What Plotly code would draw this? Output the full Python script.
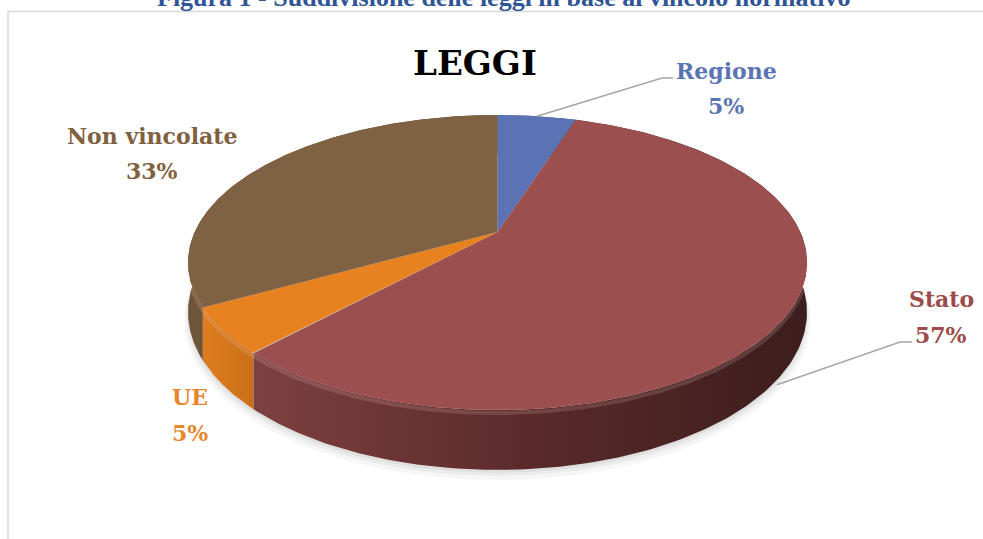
import numpy as np
import plotly.graph_objects as go

# ---------------- data ----------------
categories = ["Regione", "Stato", "UE", "Non vincolate"]
values = [5, 57, 5, 33]
title_text = "LEGGI"
caption_text = "Figura 1 - Suddivisione delle leggi in base al vincolo normativo"

# ---------------- styles ----------------
top_colors = ["#5b73b4", "#9b4f4f", "#e68220", "#7f6243"]
side_colors = [["#4a5f96", "#3c4d7a"],
               ["#7e4040", "#5a2a2a", "#3c1d1d"],
               ["#de7d1e", "#c96f18"],
               ["#6f5539", "#5e472f"]]
label_colors = ["#5a73b5", "#9c4a4a", "#e8862b", "#7f603f"]

# pseudo-3D projection parameters (pixel space)
CX, CY = 497.5, 232.0
A, B, K, D = 302.8, 141.2, 0.2068, 47.5


def rim(theta_deg, drop=False):
    t = np.radians(theta_deg)
    u, v = np.sin(t), np.cos(t)
    w = 1 + K * v
    x = CX + A * u / w
    y = CY - B * v / w + (D / w if drop else 0.0)
    return x, y


total = float(sum(values))
bounds = np.concatenate([[0.0], np.cumsum(values) / total * 360.0])

fig = go.Figure()

# soft shadow under the pie
full = np.linspace(0, 360, 361)
bx, by = rim(full, drop=True)
mx, my = bx.mean(), by.mean()
for s, dy, a in [(1.012, 8, 0.035), (1.006, 5, 0.045), (1.0, 3, 0.05)]:
    fig.add_trace(go.Scatter(x=mx + (bx - mx) * s, y=my + (by - my) * s + dy,
                             mode="lines", line=dict(width=0),
                             fill="toself", fillcolor=f"rgba(0,0,0,{a})",
                             hoverinfo="skip"))

# side walls
for i in range(len(values)):
    th = np.linspace(bounds[i], bounds[i + 1], 200)
    tx, ty = rim(th)
    dx, dy = rim(th[::-1], drop=True)
    cols = side_colors[i]
    cs = [[j / (len(cols) - 1), c] for j, c in enumerate(cols)]
    fig.add_trace(go.Scatter(x=np.concatenate([tx, dx]), y=np.concatenate([ty, dy]),
                             mode="lines", line=dict(width=0),
                             fill="toself",
                             fillgradient=dict(type="horizontal", colorscale=cs),
                             hoverinfo="skip"))

# bevel highlight on front edge
th = np.linspace(95, 265, 200)
hx, hy = rim(th)
fig.add_trace(go.Scatter(x=hx, y=hy + 3, mode="lines",
                         line=dict(color="rgba(255,210,210,0.16)", width=4),
                         hoverinfo="skip"))

# top faces
for i in range(len(values)):
    th = np.linspace(bounds[i], bounds[i + 1], 200)
    tx, ty = rim(th)
    fig.add_trace(go.Scatter(x=np.concatenate([[CX], tx, [CX]]),
                             y=np.concatenate([[CY], ty, [CY]]),
                             mode="lines", line=dict(width=0, color=top_colors[i]),
                             fill="toself", fillcolor=top_colors[i],
                             hoverinfo="skip"))

# leader lines
mid0 = (bounds[0] + bounds[1]) / 2
sx, sy = rim(mid0)
fig.add_trace(go.Scatter(x=[sx, 662, 673], y=[sy, 78, 78], mode="lines",
                         line=dict(color="#a6a6a6", width=1.5), hoverinfo="skip"))
mid1 = (bounds[1] + bounds[2]) / 2 + 4
sx, sy = rim(mid1, drop=True)
fig.add_trace(go.Scatter(x=[sx - 3, 900, 912], y=[sy + 8, 342, 342], mode="lines",
                         line=dict(color="#a6a6a6", width=1.5), hoverinfo="skip"))

# labels
label_pos = [(726, 71, 106), (941, 299, 335), (190, 397, 433), (152, 136, 171)]
font_lab = "DejaVu Serif"
for i, (lx, y1, y2) in enumerate(label_pos):
    pct = f"{values[i] / total * 100:.0f}%"
    for txt, yy in [(categories[i], y1), (pct, y2)]:
        fig.add_annotation(x=lx, y=yy, text=f"<b>{txt}</b>", showarrow=False,
                           xanchor="center", yanchor="middle",
                           font=dict(family=font_lab, size=22, color=label_colors[i]))

fig.add_annotation(x=475, y=63, text=f"<b>{title_text}</b>", showarrow=False,
                   xanchor="center", yanchor="middle",
                   font=dict(family=font_lab, size=34, color="#000000"))

# caption (cut off by the top edge as in the source)
fig.add_annotation(x=0.512, y=1, xref="paper", yref="paper", yshift=3,
                   text=f"<b>{caption_text}</b>", showarrow=False,
                   xanchor="center", yanchor="middle",
                   font=dict(family="Liberation Serif", size=26, color="#2f5597"))

# chart frame
fig.add_shape(type="rect", x0=8, y0=11.5, x1=1000, y1=560,
              line=dict(color="#d9d9d9", width=1.5), layer="below")

fig.update_layout(
    width=983, height=539,
    margin=dict(l=0, r=0, t=0, b=0),
    paper_bgcolor="white", plot_bgcolor="white",
    showlegend=False, hovermode=False,
    xaxis=dict(range=[0, 983], visible=False, fixedrange=True),
    yaxis=dict(range=[539, 0], visible=False, fixedrange=True),
)

fig.write_html("out.html",
               config={"displayModeBar": False},
               post_script="document.body.style.margin='0';document.body.style.overflow='hidden';")
